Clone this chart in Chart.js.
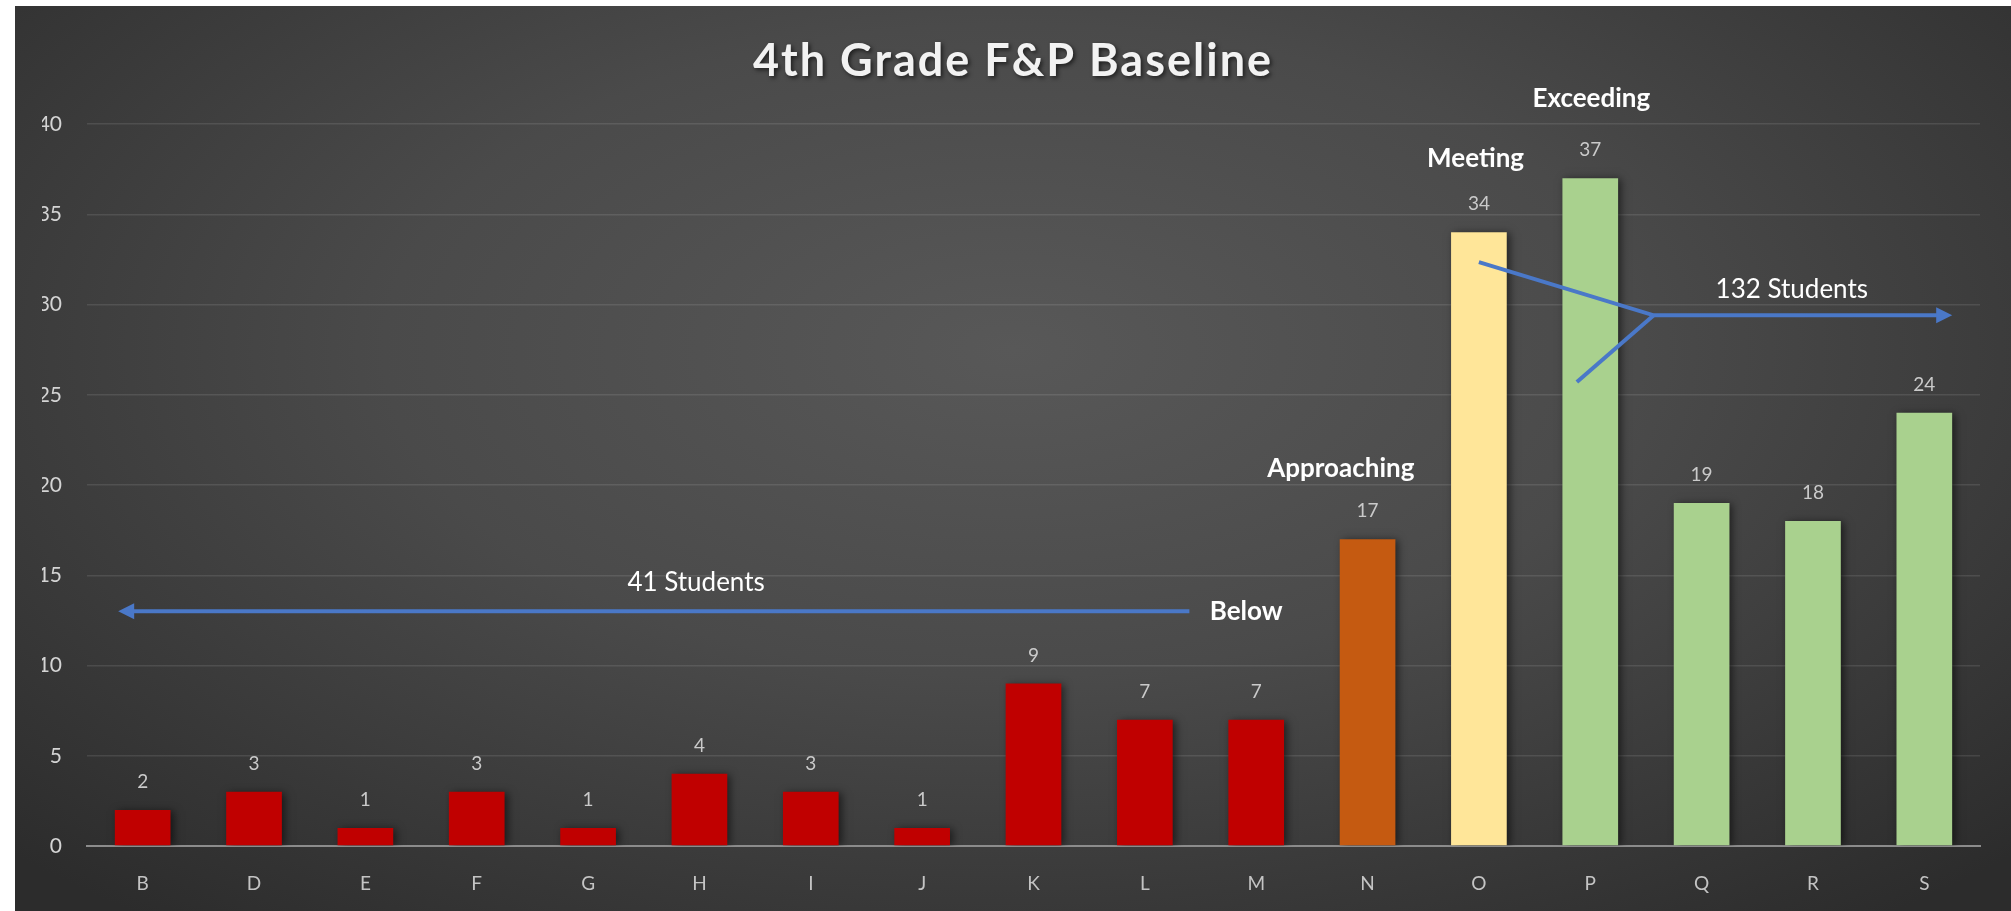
<!DOCTYPE html>
<html>
<head>
<meta charset="utf-8">
<script src="https://cdn.jsdelivr.net/npm/chart.js@4.4.1/dist/chart.umd.min.js"></script>
<style>
  html, body { margin: 0; padding: 0; background: #fff; }
  #wrap {
    position: absolute; left: 15px; top: 6px; width: 1996px; height: 905px;
    background: radial-gradient(ellipse 70% 80% at 50% 38%, #585858 0%, #4a4a4a 45%, #2c2c2c 100%);
  }
</style>
</head>
<body>
<div id="wrap"><canvas id="chart"></canvas></div>
<script>
// F&P reading levels and number of students at each
const levels = ['B','D','E','F','G','H','I','J','K','L','M','N','O','P','Q','R','S'];
const students = [2,3,1,3,1,4,3,1,9,7,7,17,34,37,19,18,24];
const bands = ['below','below','below','below','below','below','below','below','below','below','below',
               'approaching','meeting','exceeding','exceeding','exceeding','exceeding'];
const bandColors = { below: '#c00000', approaching: '#c55a11', meeting: '#ffe699', exceeding: '#a9d18e' };
const chartTitle = '4th Grade F&P Baseline';

// hand-drawn callouts, in chart value space (x = level index, y = students)
const noteText = ['41 Students','Below','Approaching','Meeting','Exceeding','132 Students'];
const noteX    = [4.97, 9.91, 10.76, 11.97, 13.01, 14.81];
const noteY    = [14.6, 13.0, 20.9, 38.1, 41.4, 30.8];
const noteBold = [false, true, true, true, true, false];

// arrow polylines: [x, y] pairs, last point gets an arrow head when head is true
const arrowLines = [
  { pts: [[9.4, 13], [-0.22, 13]], head: true },
  { pts: [[12.0, 32.35], [13.57, 29.4], [16.25, 29.4]], head: true },
  { pts: [[12.88, 25.7], [13.57, 29.4]], head: false }
];

const FONT = 'Lato, "Open Sans", sans-serif';

// title drawn by hand so it can get the spacing + drop shadow
const titleDraw = {
  id: 'titleDraw',
  afterDraw(chart){
    const ctx = chart.ctx;
    ctx.save();
    ctx.font = 'bold 45px ' + FONT;
    ctx.letterSpacing = '2px';
    ctx.fillStyle = '#f2f2f2';
    ctx.textAlign = 'center';
    ctx.textBaseline = 'middle';
    ctx.shadowColor = 'rgba(0,0,0,0.6)';
    ctx.shadowBlur = 4;
    ctx.shadowOffsetX = 2;
    ctx.shadowOffsetY = 2;
    ctx.fillText(chartTitle, chart.width / 2, 55);
    ctx.restore();
  }
};

// value labels above each bar
const valueLabels = {
  id: 'valueLabels',
  afterDatasetsDraw(chart){
    const ctx = chart.ctx;
    const meta = chart.getDatasetMeta(0);
    ctx.save();
    ctx.font = '19px ' + FONT;
    ctx.fillStyle = '#cacaca';
    ctx.textAlign = 'center';
    ctx.textBaseline = 'middle';
    meta.data.forEach((bar, i)=>{
      ctx.fillText(String(students[i]), bar.x, bar.y - 28);
    });
    ctx.restore();
  }
};

// soft shadow behind the bars
const barShadow = {
  id: 'barShadow',
  beforeDatasetsDraw(chart){
    const ctx = chart.ctx;
    ctx.save();
    ctx.shadowColor = 'rgba(0,0,0,0.55)';
    ctx.shadowBlur = 8;
    ctx.shadowOffsetX = 3;
    ctx.shadowOffsetY = 1;
  },
  afterDatasetsDraw(chart){ chart.ctx.restore(); }
};

// callout arrows and text
const callouts = {
  id: 'callouts',
  afterDatasetsDraw(chart){
    const { ctx, scales: { x, y } } = chart;
    const P = p => [x.getPixelForValue(p[0]), y.getPixelForValue(p[1])];
    ctx.save();
    ctx.strokeStyle = '#4a78c8';
    ctx.fillStyle = '#4a78c8';
    ctx.lineWidth = 4;
    arrowLines.forEach(a=>{
      const pts = a.pts.map(P);
      const n = pts.length;
      const end = pts[n-1];
      const prev = pts[n-2];
      const ang = Math.atan2(end[1]-prev[1], end[0]-prev[0]);
      const headLen = 16, headW = 8;
      ctx.beginPath();
      ctx.moveTo(pts[0][0], pts[0][1]);
      for(let i=1;i<n-1;i++) ctx.lineTo(pts[i][0], pts[i][1]);
      if(a.head){
        ctx.lineTo(end[0] - Math.cos(ang)*headLen*0.8, end[1] - Math.sin(ang)*headLen*0.8);
      } else {
        ctx.lineTo(end[0], end[1]);
      }
      ctx.stroke();
      if(a.head){
        ctx.beginPath();
        ctx.moveTo(end[0], end[1]);
        ctx.lineTo(end[0] - Math.cos(ang)*headLen - Math.sin(ang)*headW, end[1] - Math.sin(ang)*headLen + Math.cos(ang)*headW);
        ctx.lineTo(end[0] - Math.cos(ang)*headLen + Math.sin(ang)*headW, end[1] - Math.sin(ang)*headLen - Math.cos(ang)*headW);
        ctx.closePath();
        ctx.fill();
      }
    });
    ctx.fillStyle = '#ffffff';
    ctx.textAlign = 'center';
    ctx.textBaseline = 'middle';
    noteText.forEach((t, i)=>{
      ctx.font = (noteBold[i] ? 'bold ' : '') + '26px ' + FONT;
      ctx.fillText(t, x.getPixelForValue(noteX[i]), y.getPixelForValue(noteY[i]));
    });
    ctx.restore();
  }
};

const ctx = document.getElementById('chart').getContext('2d');
const chart = new Chart(ctx, {
  type: 'bar',
  data: {
    labels: levels,
    datasets: [{
      data: students,
      backgroundColor: bands.map(b => bandColors[b]),
      barPercentage: 0.5,
      categoryPercentage: 1.0,
      borderWidth: 0
    }]
  },
  options: {
    responsive: true,
    maintainAspectRatio: false,
    animation: false,
    layout: { padding: { left: 27, right: 31, top: 118, bottom: 17 } },
    scales: {
      x: {
        grid: { display: false, drawTicks: false },
        border: { display: true, color: '#8c8c8c', width: 2 },
        ticks: { color: '#c4c4c4', font: { family: FONT, size: 19 }, padding: 26 },
        afterFit(scale){ scale.height = 48; }
      },
      y: {
        min: 0, max: 40,
        border: { display: false },
        grid: { color: 'rgba(255,255,255,0.1)', lineWidth: 1.5, drawTicks: false },
        ticks: { stepSize: 5, color: '#d4d4d4', font: { family: FONT, size: 21 }, padding: 25 },
        afterFit(scale){ scale.width = 45; }
      }
    },
    plugins: {
      legend: { display: false },
      tooltip: { enabled: false },
      title: { display: false }
    }
  },
  plugins: [barShadow, valueLabels, callouts, titleDraw]
});
</script>
</body>
</html>
